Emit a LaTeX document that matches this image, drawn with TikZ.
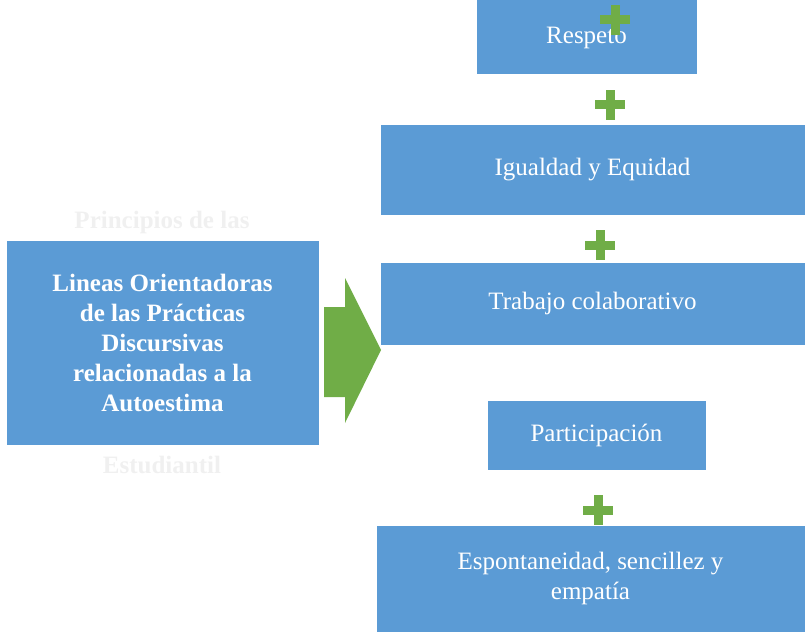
\documentclass[tikz,border=0pt]{standalone}
\usepackage{fontspec}
\setmainfont{Liberation Serif}
\definecolor{bx}{HTML}{5B9BD5}
\definecolor{gr}{HTML}{70AD47}
\begin{document}
\begin{tikzpicture}[x=1pt,y=-1pt,
  bluebox/.style={fill=bx,draw=white,line width=1pt,text=white,align=center,font=\fontsize{25}{30}\selectfont},
  plus/.style={fill=gr,draw=none}]
\useasboundingbox (0,0) rectangle (810,639);
\node[text=black!6,font=\bfseries\fontsize{25}{30}\selectfont] (t1) at (162,222) {Principios de las};
\node[text=black!6,font=\bfseries\fontsize{25}{30}\selectfont] (t2) at (162,465) {Estudiantil};
\node[bluebox,minimum width=313,minimum height=205,font=\bfseries\fontsize{25}{30}\selectfont] (L) at (162.5,342.5)
 {Lineas Orientadoras\\de las Prácticas\\Discursivas\\relacionadas a la\\Autoestima};
\fill[gr] (324,307) -- (345,307) -- (345,278) -- (381,350) -- (345,423) -- (345,397) -- (324,397) -- cycle;
\node[bluebox,minimum width=221,minimum height=75] (r) at (586.5,37.5) {Respeto};
\node[bluebox,minimum width=425,minimum height=90] (i) at (592.5,170) {Igualdad y Equidad};
\node[bluebox,minimum width=425,minimum height=83] (t) at (592.5,303.5) {Trabajo colaborativo};
\node[bluebox,minimum width=219,minimum height=70] (p) at (596.5,435) {Participación};
\node[bluebox,minimum width=429,minimum height=107] (e) at (590.5,578.5) {Espontaneidad, sencillez y\\empatía};
\foreach \n/\cx/\cy in {a/615/20,b/610/105,c/600/245,d/598/510}{
  \fill[plus] (\cx-15,\cy-4.5) rectangle (\cx+15,\cy+4.5);
  \fill[plus] (\cx-4.5,\cy-15) rectangle (\cx+4.5,\cy+15);
}
\end{tikzpicture}
\end{document}
